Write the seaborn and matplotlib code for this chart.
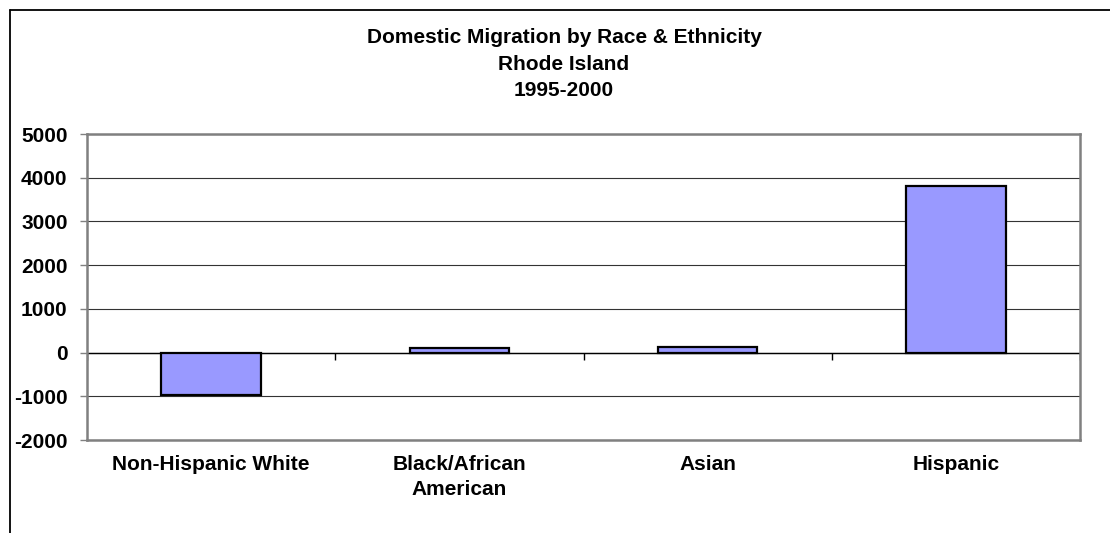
import numpy as np
import pandas as pd
import matplotlib
matplotlib.use("Agg")
import matplotlib.pyplot as plt
from matplotlib.lines import Line2D
import seaborn as sns

# data
groups = ["Non-Hispanic White", "Black/African\nAmerican", "Asian", "Hispanic"]
net_migration = [-960, 110, 125, 3800]
y_ticks = [-2000, -1000, 0, 1000, 2000, 3000, 4000, 5000]
title_lines = ["Domestic Migration by Race & Ethnicity", "Rhode Island", "1995-2000"]

sns.set_style("white")
plt.rcParams["font.family"] = ["Liberation Sans", "DejaVu Sans"]
plt.rcParams["font.weight"] = "bold"
plt.rcParams["text.color"] = "black"
plt.rcParams["xtick.color"] = "black"
plt.rcParams["ytick.color"] = "black"

df = pd.DataFrame({"group": groups, "value": net_migration})

W, H = 1110, 533
fig = plt.figure(figsize=(W / 100, H / 100), dpi=100)
ax = fig.add_axes([87 / W, 1 - 440 / H, (1080 - 87) / W, (440 - 134) / H])

sns.barplot(data=df, x="group", y="value", ax=ax, color="#9999FF",
            width=0.4, edgecolor="black", linewidth=1.6, saturation=1, zorder=3)

ax.set_ylim(y_ticks[0], y_ticks[-1])
ax.set_xlim(-0.5, len(groups) - 0.5)
ax.set_yticks(y_ticks)
ax.set_yticklabels([str(t) for t in y_ticks], fontsize=15, fontweight="bold")
ax.set_xticks(range(len(groups)))
ax.set_xticklabels(groups, fontsize=15, fontweight="bold", linespacing=1.4, va="top")
ax.set_xlabel("")
ax.set_ylabel("")

ax.grid(axis="y", color="#333333", linewidth=0.8, zorder=0)
ax.tick_params(axis="y", direction="out", length=5, width=1, color="#808080",
               labelcolor="black", pad=9, left=True)
ax.tick_params(axis="x", length=0, pad=11, labelcolor="black")
for s in ax.spines.values():
    s.set_color("#808080")
    s.set_linewidth(1.8)

# category axis at zero with tick marks between categories
ax.axhline(0, color="black", linewidth=1, zorder=2)
ax.vlines(np.arange(len(groups) + 1) - 0.5, -180, 0, color="black", linewidth=1, zorder=2)

fig.text(564 / W, 1 - 28 / H, "\n".join(title_lines), ha="center", va="top",
         fontsize=15, fontweight="bold", linespacing=1.5, color="black")

# outer chart border
fig.add_artist(Line2D([10 / W, 10 / W], [0, 1 - 10 / H], transform=fig.transFigure,
                      color="black", linewidth=1.3))
fig.add_artist(Line2D([10 / W, 1], [1 - 10 / H, 1 - 10 / H], transform=fig.transFigure,
                      color="black", linewidth=1.3))

fig.savefig("out.png", dpi=100)
